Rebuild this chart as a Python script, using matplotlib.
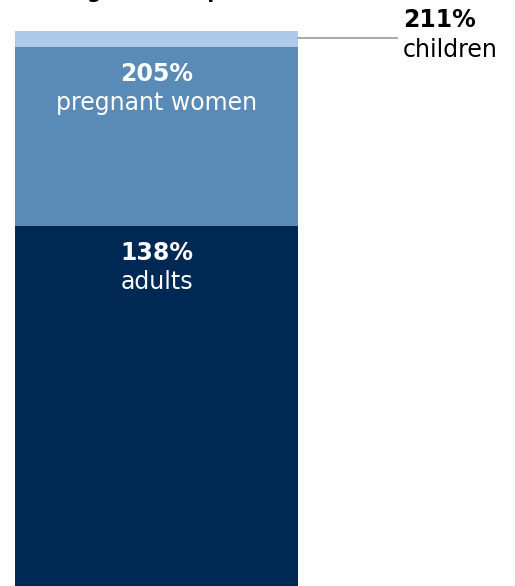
import matplotlib
matplotlib.use("Agg")
from matplotlib import pyplot as plt

# eligibility ceilings by group, % of poverty line
groups = ["children", "pregnant women", "adults"]
values = [211, 205, 138]
colors = ["#AEC9E9", "#5A8AB6", "#002855"]

fig = plt.figure(figsize=(5.15, 5.86), dpi=100)
fig.patch.set_facecolor("white")

# bar runs off the bottom edge of the canvas
ax = fig.add_axes([15 / 515, -8 / 586, 283 / 515, 563 / 586])
ax.set_xlim(-0.5, 0.5)
ax.set_ylim(0, values[0])
ax.axis("off")

for name, val, col in zip(groups, values, colors):
    ax.bar(0, val, width=1.0, color=col, edgecolor="none", clip_on=False)

# labels inside the two lower segments
for name, val in zip(groups[1:], values[1:]):
    ax.annotate(f"{val}%", (0, val), xytext=(0, -27), textcoords="offset pixels",
                ha="center", va="center", color="white", fontsize=17,
                fontweight="bold")
    ax.annotate(name, (0, val), xytext=(0, -56), textcoords="offset pixels",
                ha="center", va="center", color="white", fontsize=17)

# call-out for the thin top segment
fig.add_artist(plt.Line2D([298 / 515, 397 / 515], [1 - 38 / 586, 1 - 38 / 586],
                          color="#999999", lw=1.2))
fig.text(403 / 515, 1 - 20 / 586, f"{values[0]}%", ha="left", va="center",
         fontsize=17, fontweight="bold", color="black")
fig.text(403 / 515, 1 - 50 / 586, groups[0], ha="left", va="center",
         fontsize=17, color="black")

# title sits above the top edge, only its descenders show
fig.text(8 / 515, 1 + 2 / 586, "Coverage limits up to", ha="left", va="baseline",
         fontsize=14.5, fontweight="bold", color="black")

fig.savefig("out.png", dpi=100)
